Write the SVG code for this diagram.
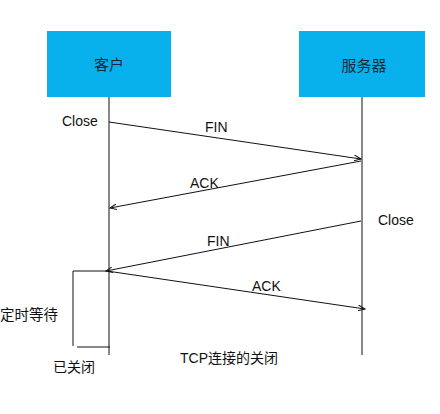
<svg xmlns="http://www.w3.org/2000/svg" width="440" height="414" viewBox="0 0 440 414">
<style>
.box{fill:#08B0EC;stroke:none}
.t{font-family:"Liberation Sans","Noto Sans CJK SC",sans-serif;font-size:14px;fill:#111}
.bt{font-family:"Liberation Sans","Noto Sans CJK SC",sans-serif;font-size:15px;fill:#1a2a3a;text-anchor:middle}
.ln{stroke:#111;stroke-width:1;fill:none}
</style>
<defs>
<marker id="ah" markerWidth="8" markerHeight="6" refX="7" refY="3" orient="auto" markerUnits="userSpaceOnUse">
<path d="M0,0 L7,3 L0,6" fill="none" stroke="#111" stroke-width="1"/>
</marker>
</defs>
<rect width="440" height="414" fill="#fff"/>
<g id="client">
<rect class="box" x="47" y="31" width="124" height="66"/>
<text class="bt" x="109" y="70">客户</text>
</g>
<g id="server">
<rect class="box" x="299" y="31" width="126" height="66"/>
<text class="bt" x="364" y="71">服务器</text>
</g>
<g id="connectors">
<line class="ln" x1="109" y1="97" x2="109" y2="355"/>
<line class="ln" x1="362" y1="97" x2="362" y2="355"/>
<line class="ln" x1="109" y1="122" x2="361" y2="159" marker-end="url(#ah)"/>
<line class="ln" x1="361" y1="161" x2="110" y2="208" marker-end="url(#ah)"/>
<line class="ln" x1="361" y1="221" x2="106" y2="271" marker-end="url(#ah)"/>
<line class="ln" x1="107" y1="271" x2="365" y2="309" marker-end="url(#ah)"/>
<polyline class="ln" points="107,271 73,271 73,346"/>
<line class="ln" x1="77" y1="347" x2="110" y2="347"/>
</g>
<g id="labels">
<text class="t" x="62" y="126">Close</text>
<text class="t" x="205" y="132">FIN</text>
<text class="t" x="190" y="188">ACK</text>
<text class="t" x="378" y="225">Close</text>
<text class="t" x="207" y="246">FIN</text>
<text class="t" x="252" y="291">ACK</text>
<text class="t" x="0" y="320" style="font-size:14.5px">定时等待</text>
<text class="t" x="53" y="372">已关闭</text>
<text class="t" x="180" y="363">TCP连接的关闭</text>
</g>
</svg>
